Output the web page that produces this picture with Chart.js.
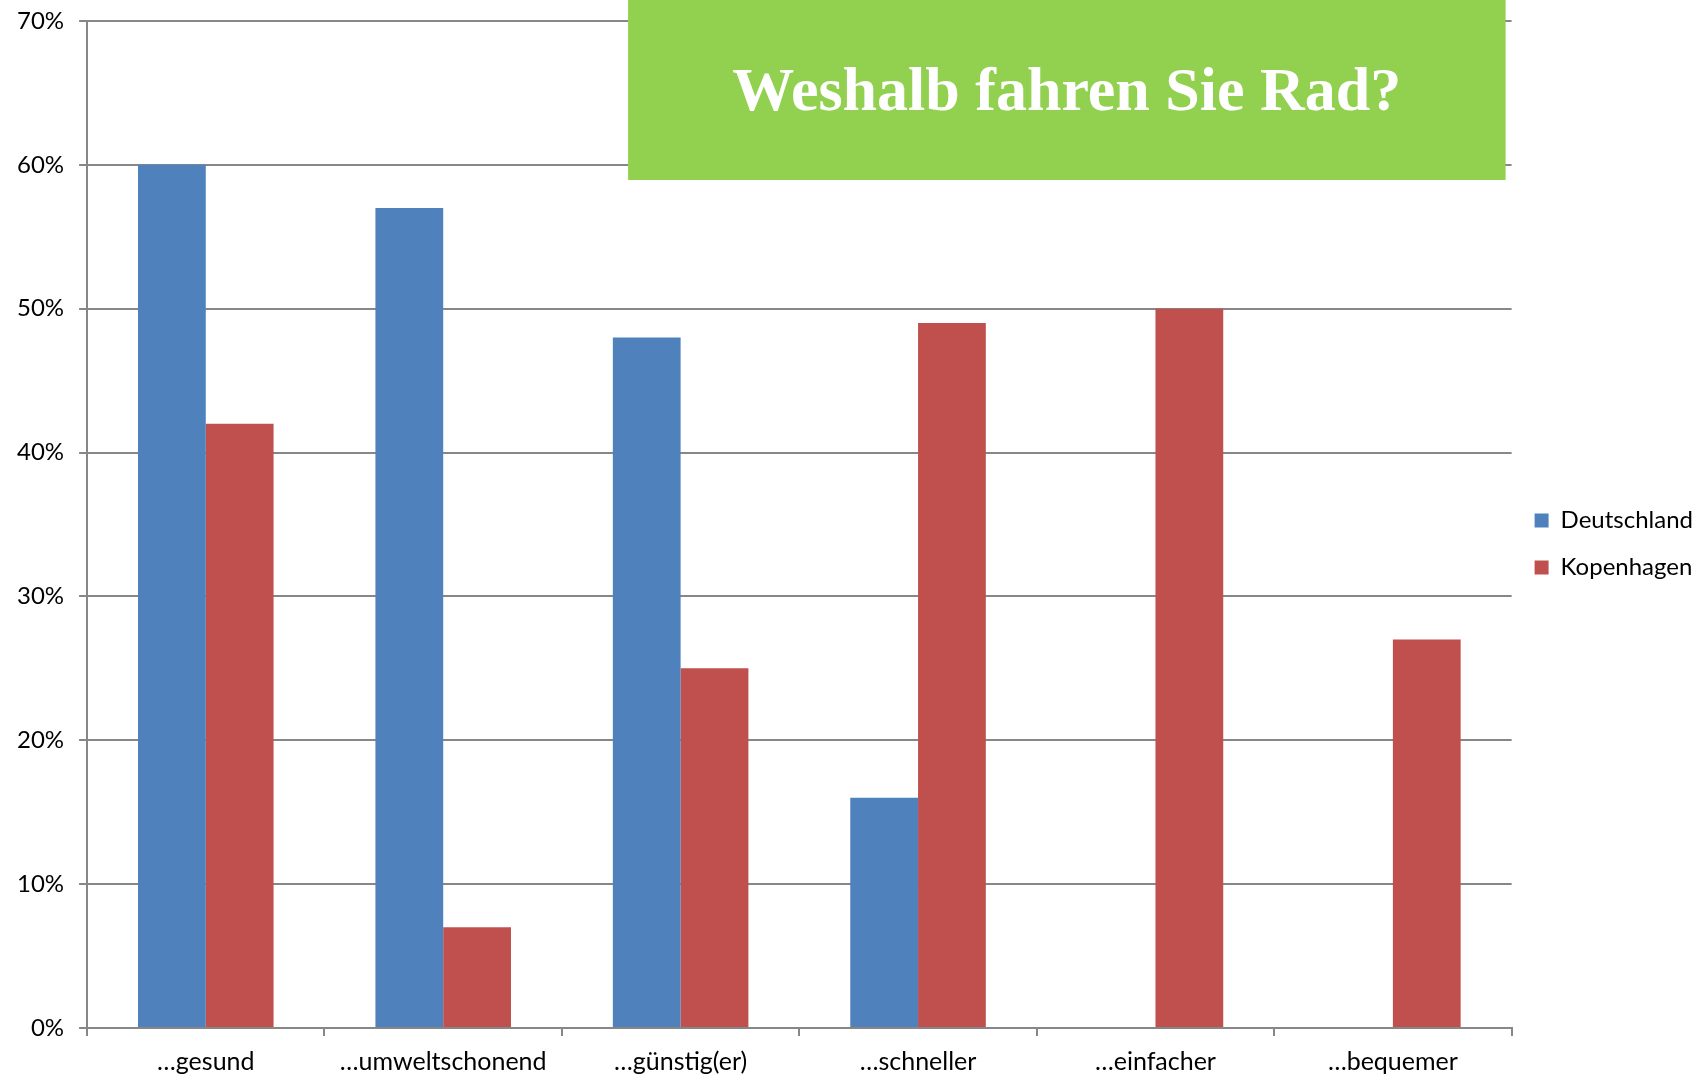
<!DOCTYPE html>
<html>
<head>
<meta charset="utf-8">
<script src="https://cdn.jsdelivr.net/npm/chart.js@4"></script>
<style>
  html, body { margin: 0; padding: 0; background: #fff; }
  #wrap { width: 1696px; height: 1081px; }
</style>
</head>
<body>
<div id="wrap"><canvas id="myChart" width="1696" height="1081"></canvas></div>
<script>
const categories = ["…gesund", "…umweltschonend", "…günstig(er)", "…schneller", "…einfacher", "…bequemer"];
const deutschland = [60, 57, 48, 16, null, null];
const kopenhagen = [42, 7, 25, 49, 50, 27];
const seriesNames = ["Deutschland", "Kopenhagen"];
const titleText = "Weshalb fahren Sie Rad?";

const gridGray = "#878787";

// green title box, drawn over the grid like in the original
const titleBox = {
  id: "titleBox",
  afterDraw(chart) {
    const { ctx, chartArea } = chart;
    const left = chartArea.left + 541;
    const right = chartArea.right - 6;
    ctx.save();
    ctx.fillStyle = "#92D050";
    ctx.fillRect(left, 0, right - left, 180);
    ctx.fillStyle = "#fff";
    ctx.font = "bold 62px 'Liberation Serif', serif";
    ctx.textAlign = "center";
    ctx.textBaseline = "alphabetic";
    ctx.fillText(titleText, (left + right) / 2, 110);
    ctx.restore();
  },
};

const ctx = document.getElementById("myChart").getContext("2d");
const chart = new Chart(ctx, {
  type: "bar",
  data: {
    labels: categories,
    datasets: [
      {
        label: seriesNames[0],
        data: deutschland,
        backgroundColor: "#4F81BD",
        barPercentage: 1,
        categoryPercentage: 0.571,
      },
      {
        label: seriesNames[1],
        data: kopenhagen,
        backgroundColor: "#C0504D",
        barPercentage: 1,
        categoryPercentage: 0.571,
      },
    ],
  },
  options: {
    responsive: false,
    animation: false,
    layout: {
      padding: { top: 0, left: 2, right: -7, bottom: -7 },
    },
    plugins: {
      title: { display: false },
      tooltip: { enabled: false },
      legend: {
        position: "right",
        labels: {
          boxWidth: 14,
          boxHeight: 14,
          padding: 23,
          color: "#000",
          font: { family: "Lato", size: 24 },
        },
      },
    },
    scales: {
      x: {
        grid: {
          drawOnChartArea: false,
          color: gridGray,
          lineWidth: 2,
          tickLength: 8,
        },
        border: { color: gridGray, width: 2 },
        ticks: {
          color: "#000",
          padding: 11,
          font: { family: "Lato", size: 25 },
        },
      },
      y: {
        min: 0,
        max: 70,
        grid: { color: gridGray, lineWidth: 2, tickLength: 8 },
        border: { color: gridGray, width: 2 },
        ticks: {
          stepSize: 10,
          color: "#000",
          padding: 15,
          font: { family: "Lato", size: 24, lineHeight: 0.5 },
          callback: (v) => v + "%",
        },
      },
    },
  },
  plugins: [titleBox],
});
</script>
</body>
</html>
